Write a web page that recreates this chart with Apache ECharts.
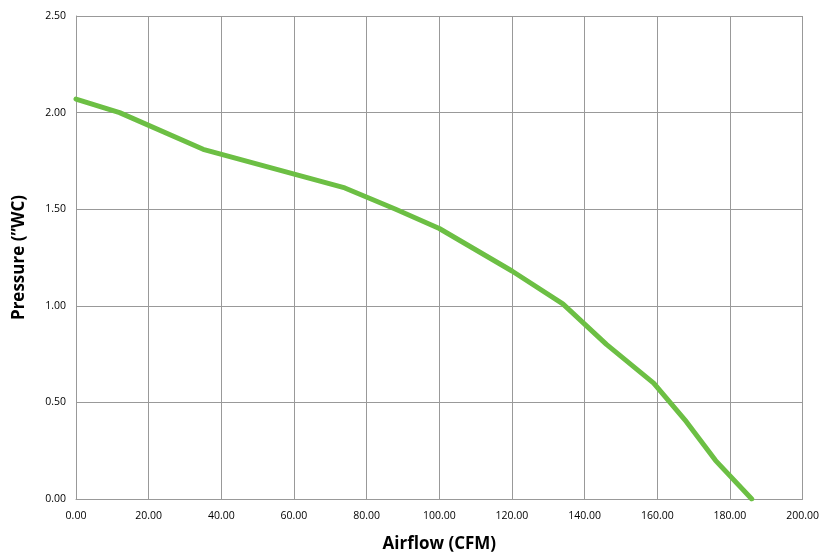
<!DOCTYPE html>
<html>
<head>
<meta charset="utf-8">
<script src="https://cdn.jsdelivr.net/npm/echarts@6/dist/echarts.min.js"></script>
<style>html,body{margin:0;padding:0;background:#fff}#c{width:822px;height:558px}</style>
</head>
<body>
<div id="c"></div>
<script>
var airflow = [0, 12, 35, 74, 88, 100, 120, 134, 146, 159, 168, 176, 186];
var pressure = [2.07, 2.00, 1.81, 1.61, 1.50, 1.40, 1.18, 1.01, 0.80, 0.60, 0.40, 0.20, 0.00];
var xTitle = 'Airflow (CFM)';
var yTitle = 'Pressure (\u201DWC)';

var pts = airflow.map(function (x, i) { return [x, pressure[i]]; });
var chart = echarts.init(document.getElementById('c'));
var axisFont = {fontFamily: 'Open Sans', fontSize: 10.5, color: '#000'};
chart.setOption({
  animation: false,
  grid: {left: 76, right: 19, top: 16, bottom: 56},
  xAxis: {
    type: 'value', min: 0, max: 200, interval: 20,
    name: xTitle, nameLocation: 'middle', nameGap: 37,
    nameTextStyle: {fontFamily: 'Open Sans', fontSize: 17, fontWeight: 'bold', color: '#000'},
    axisLine: {show: true, lineStyle: {color: '#999', width: 1}},
    axisTick: {show: false},
    axisLabel: Object.assign({margin: 12, formatter: function (v) { return v.toFixed(2); }}, axisFont),
    splitLine: {show: true, lineStyle: {color: '#999', width: 1}}
  },
  yAxis: {
    type: 'value', min: 0, max: 2.5, interval: 0.5,
    name: yTitle, nameLocation: 'middle', nameGap: 48,
    nameTextStyle: {fontFamily: 'Open Sans', fontSize: 17, fontWeight: 'bold', color: '#000'},
    axisLine: {show: true, lineStyle: {color: '#999', width: 1}},
    axisTick: {show: false},
    axisLabel: Object.assign({margin: 10, formatter: function (v) { return v.toFixed(2); }}, axisFont),
    splitLine: {show: true, lineStyle: {color: '#999', width: 1}}
  },
  series: [{
    type: 'line', data: pts, showSymbol: false, symbol: 'none',
    lineStyle: {color: '#6cbf44', width: 5, cap: 'round', join: 'round'}
  }]
});
</script>
</body>
</html>
